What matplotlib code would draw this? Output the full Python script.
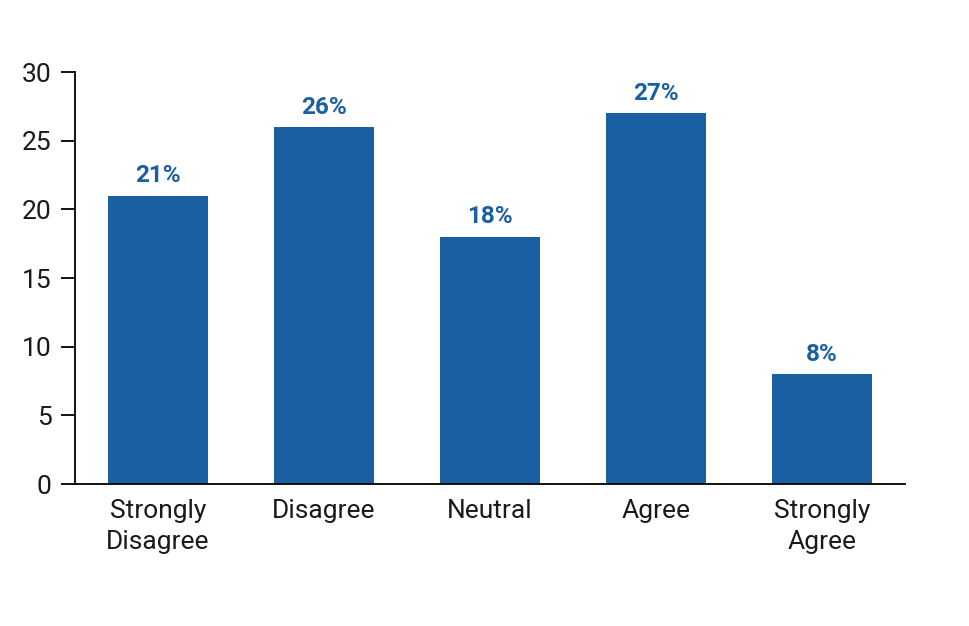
import numpy as np
import matplotlib.pyplot as plt

categories = ["Strongly\nDisagree", "Disagree", "Neutral", "Agree", "Strongly\nAgree"]
values = [21, 26, 18, 27, 8]
labels = ["21%", "26%", "18%", "27%", "8%"]
yticks = [0, 5, 10, 15, 20, 25, 30]

plt.rcParams['font.family'] = ['Roboto', 'DejaVu Sans']
bar_color = "#1b5fa3"
text_color = "#1a1a1a"

fig = plt.figure(figsize=(9.69, 6.26), dpi=100)
ax = fig.add_axes([75 / 969, 1 - 484 / 626, 830 / 969, 412 / 626])

x = np.arange(len(categories))
bars = ax.bar(x, values, width=0.6, color=bar_color)
for b, lab in zip(bars, labels):
    ax.annotate(lab, (b.get_x() + b.get_width() / 2, b.get_height()),
                xytext=(0, 6), textcoords="offset points",
                ha="center", va="bottom", color=bar_color,
                fontsize=17.5, fontweight="bold")

ax.set_xlim(-0.5, len(categories) - 0.5)
ax.set_ylim(0, 30)
ax.set_yticks(yticks)
ax.set_xticks(x)
ax.set_xticklabels(categories, fontsize=19, color=text_color, linespacing=1.35)
ax.tick_params(axis="y", length=10, width=1.3, labelsize=19, labelcolor=text_color, pad=7)
ax.tick_params(axis="x", length=0, pad=11)
for s in ["top", "right"]:
    ax.spines[s].set_visible(False)
for s in ["left", "bottom"]:
    ax.spines[s].set_linewidth(1.3)

fig.savefig("out.png", dpi=100)
